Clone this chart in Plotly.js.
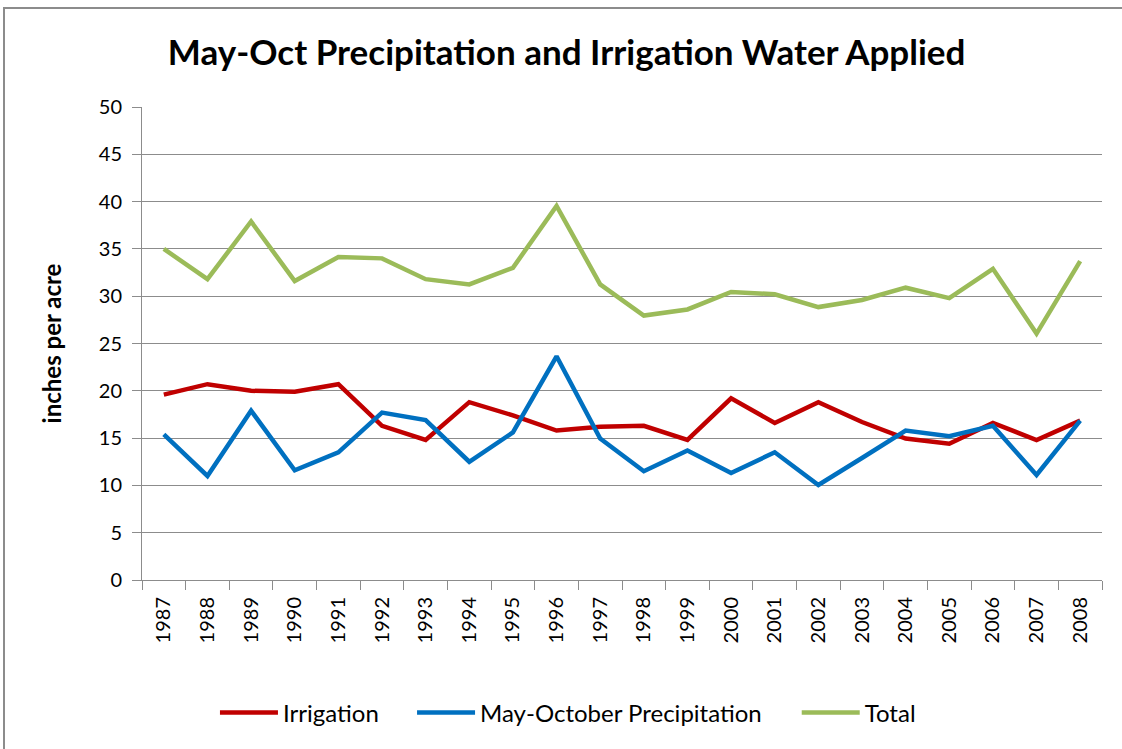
<!DOCTYPE html>
<html>
<head>
<meta charset="utf-8">
<script src="https://cdn.plot.ly/plotly-3.0.1.min.js"></script>
<style>
  html, body { margin: 0; padding: 0; background: #fff; }
  #wrap { position: absolute; left: 0; top: 0; width: 1122px; height: 749px; overflow: hidden; }
  #frame { position: absolute; left: 3px; top: 7px; width: 1130px; height: 760px; border: 2px solid #8c8c8c; box-sizing: border-box; }
  #chart { position: absolute; left: 0; top: 0; width: 1122px; height: 749px; }
</style>
</head>
<body>
<div id="wrap">
  <div id="chart"></div>
  <div id="frame"></div>
</div>
<script>
const years = ["1987","1988","1989","1990","1991","1992","1993","1994","1995","1996","1997",
               "1998","1999","2000","2001","2002","2003","2004","2005","2006","2007","2008"];
const irrigation = [19.6,20.7,20.0,19.9,20.7,16.3,14.8,18.8,17.4,15.8,16.2,
                    16.3,14.8,19.2,16.6,18.8,16.7,14.95,14.4,16.6,14.8,16.85];
const precipitation = [15.4,11.0,17.9,11.6,13.5,17.7,16.9,12.5,15.6,23.65,14.95,
                       11.5,13.7,11.3,13.5,10.05,12.9,15.8,15.2,16.3,11.1,16.85];
const total = [35.0,31.8,37.9,31.6,34.15,34.0,31.8,31.25,33.0,39.55,31.25,
               27.95,28.6,30.45,30.2,28.85,29.6,30.9,29.8,32.9,26.05,33.7];
const yTicks = [0,5,10,15,20,25,30,35,40,45,50];

const font = "Lato, 'Open Sans', sans-serif";
const lw = 4.5;

const traces = [
  {x: years, y: irrigation, name: "Irrigation", type: "scatter", mode: "lines",
   line: {color: "#C00000", width: lw}, legend: "legend"},
  {x: years, y: precipitation, name: "May-October Precipitation", type: "scatter", mode: "lines",
   line: {color: "#0070C0", width: lw}, legend: "legend2"},
  {x: years, y: total, name: "Total", type: "scatter", mode: "lines",
   line: {color: "#9BBB59", width: lw}, legend: "legend3"}
];

function legendAt(x) {
  return {
    orientation: "h", x: x, xanchor: "left", y: -0.281, yanchor: "middle",
    font: {family: font, size: 24, color: "#000"},
    itemwidth: 58, bgcolor: "rgba(0,0,0,0)"
  };
}

const layout = {
  width: 1122, height: 749,
  margin: {l: 142, r: 20, t: 107, b: 169},
  paper_bgcolor: "rgba(0,0,0,0)",
  plot_bgcolor: "#fff",
  showlegend: true,
  title: {text: "<b>May-Oct Precipitation and Irrigation Water Applied</b>",
          font: {family: font, size: 35, color: "#000"},
          x: 0.505, xanchor: "center", y: 0.93, yanchor: "middle", yref: "container"},
  xaxis: {
    type: "category",
    showline: true, linecolor: "#8c8c8c", linewidth: 1,
    ticks: "outside", tickson: "boundaries", ticklen: 9, tickcolor: "#8c8c8c",
    tickangle: -90,
    tickfont: {family: font, size: 20, color: "#000"},
    ticklabelstandoff: 8,
    showgrid: false, zeroline: false,
    range: [-0.5, 21.5]
  },
  yaxis: {
    range: [0, 50], tickvals: yTicks, ticktext: yTicks.map(String),
    showline: true, linecolor: "#8c8c8c", linewidth: 1,
    ticks: "outside", ticklen: 9, tickcolor: "#8c8c8c",
    showgrid: true, gridcolor: "#8c8c8c", gridwidth: 1,
    zeroline: false,
    tickfont: {family: font, size: 20, color: "#000"},
    ticklabelstandoff: 6,
    title: {text: "<b>inches per acre</b>", font: {family: font, size: 24, color: "#000"}, standoff: 30}
  },
  legend: legendAt(0.076),
  legend2: legendAt(0.2813),
  legend3: legendAt(0.682)
};

Plotly.newPlot("chart", traces, layout, {displayModeBar: false, staticPlot: true});
</script>
</body>
</html>
